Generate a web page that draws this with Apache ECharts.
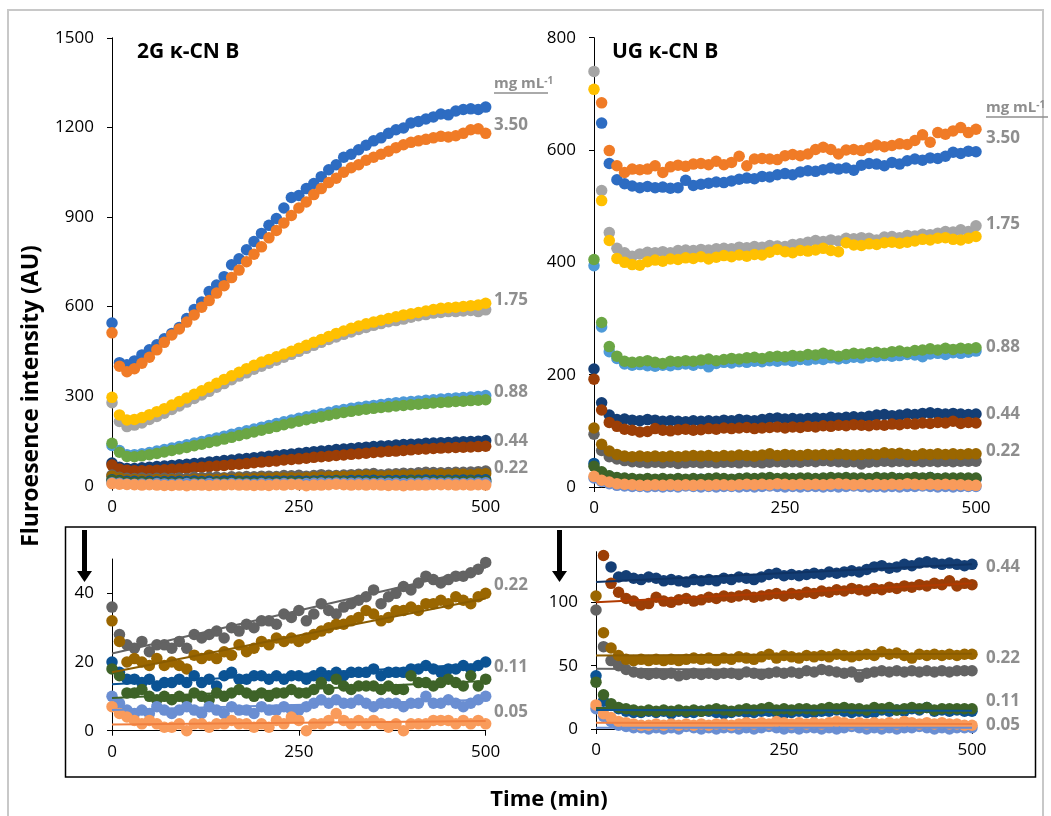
<!DOCTYPE html>
<html><head><meta charset="utf-8">
<script src="https://cdn.jsdelivr.net/npm/echarts@6/dist/echarts.min.js"></script>
<style>html,body{margin:0;padding:0;background:#fff}#c{width:1051px;height:816px}</style>
</head><body><div id="c"></div><script>
// ---------- DATA ----------
const time = [0,10,20,30,40,50,60,70,80,90,100,110,120,130,140,150,160,170,180,190,200,210,220,230,240,250,260,270,280,290,300,310,320,330,340,350,360,370,380,390,400,410,420,430,440,450,460,470,480,490,500];
const xTicks = [0,250,500];
const yTicks2G = [0,300,600,900,1200,1500];
const yTicksUG = [0,200,400,600,800];
const yTicks2Gzoom = [0,20,40];
const yTicksUGzoom = [0,50,100];

// 2G κ-CN B
const g2_350_a = [545,412,405,418,438,455,472,492,510,530,560,590,615,650,672,700,740,760,790,818,845,872,895,930,965,972,995,1012,1035,1058,1075,1100,1110,1125,1140,1155,1165,1180,1192,1198,1215,1220,1228,1235,1245,1242,1255,1260,1262,1260,1268];
const g2_350_b = [512,400,382,392,410,430,455,480,505,525,548,572,598,620,645,670,697,722,750,775,800,830,855,880,905,930,950,975,995,1015,1030,1050,1065,1075,1090,1100,1110,1120,1132,1142,1150,1155,1160,1165,1170,1168,1172,1180,1192,1195,1180];
const g2_175_a = [278,215,198,203,210,222,232,243,255,267,280,292,304,316,330,342,355,367,378,390,400,410,420,430,440,450,460,470,480,490,498,507,515,523,530,537,543,549,553,558,564,569,573,578,580,583,583,585,587,583,589];
const g2_175_b = [296,237,220,222,228,238,248,258,270,282,294,306,318,330,343,356,368,380,392,403,414,423,432,441,450,460,470,480,490,500,510,518,527,535,542,548,554,560,566,572,576,580,585,590,594,596,598,600,603,605,611];
const g2_088_a = [135,118,104,104,107,111,116,121,126,131,137,143,148,154,160,166,172,178,184,190,196,202,208,214,220,226,231,236,241,246,251,255,259,263,266,269,272,275,278,280,282,284,286,288,290,292,294,295,297,299,302];
const g2_088_b = [142,112,98,97,100,104,108,113,118,123,128,134,139,145,150,156,162,168,174,180,186,192,198,204,210,216,221,226,231,236,241,245,249,253,256,259,262,264,267,269,271,273,275,277,279,280,282,283,285,286,288];
const g2_044_a = [76,62,58,58,60,62,64,66,68,70,72,74,76,79,81,84,86,89,91,94,96,99,101,104,106,109,111,114,116,118,121,123,125,127,129,131,133,134,136,138,139,140,142,143,144,145,146,147,148,149,151];
const g2_044_b = [69,56,52,50,50,51,52,53,55,56,58,60,62,64,66,68,70,72,74,77,79,81,83,86,88,90,92,95,97,99,101,103,105,107,109,111,113,115,116,118,120,122,123,125,126,127,128,129,130,131,132];
const g2_022_a = [36,28,25,24,26,23,25,25,24,26,24,28,27,28,29,27,30,29,31,30,32,32,31,34,33,35,32,34,37,35,34,36,37,38,39,41,37,39,40,42,41,43,45,44,43,44,45,45,46,47,49];
const g2_022_b = [32,26,20,21,20,19,21,19,20,19,18,22,21,22,21,23,22,25,23,24,26,25,27,26,27,26,27,28,29,30,31,31,32,33,35,34,32,33,35,35,36,35,37,37,38,37,39,38,37,39,40];
const g2_011_a = [20,17,15,15,14,15,13,14,14,15,14,16,14,15,13,16,17,15,15,16,16,15,16,15,16,16,15,16,17,16,17,16,17,17,17,18,16,17,17,17,18,18,19,18,17,18,18,19,18,19,20];
const g2_011_b = [18,16,11,11,12,10,9,10,9,10,9,11,10,9,11,10,11,12,11,10,11,10,11,11,12,11,11,12,14,12,15,13,12,13,13,13,12,13,12,12,16,14,14,13,14,15,14,13,16,13,15];
const g2_005_a = [10,8,6,5,6,5,7,6,5,6,7,6,5,7,6,5,7,6,6,5,7,6,6,7,6,6,7,8,9,8,9,8,8,9,8,7,8,8,8,7,8,8,10,8,8,9,8,7,8,9,10];
const g2_005_b = [7,5,4,3,2,3,2,1,1,2,0,2,2,1,2,2,3,2,2,1,2,1,3,2,4,3,0,2,2,3,5,3,2,3,2,3,2,1,2,0,2,2,2,3,3,3,2,3,2,3,2];

// UG κ-CN B
const ug_350_a = [null,648,576,547,540,536,533,535,533,534,532,533,546,537,539,541,543,542,545,548,550,549,553,552,556,558,556,561,563,562,565,568,566,568,564,573,576,575,572,578,575,581,584,582,586,585,589,596,594,598,597];
const ug_350_b = [null,684,599,572,560,566,565,566,572,560,570,573,571,575,576,574,580,574,578,589,572,584,585,584,583,590,592,590,593,601,605,601,593,600,601,599,604,609,606,608,611,610,617,627,614,631,628,634,640,631,637];
const ug_175_a = [740,528,453,425,417,411,415,418,417,419,417,421,422,421,423,422,424,425,424,427,426,428,427,430,429,428,432,433,436,439,437,440,438,443,442,444,443,440,445,446,444,448,447,450,449,452,455,454,458,455,465];
const ug_175_b = [708,510,439,407,400,396,395,401,404,402,406,405,408,407,410,406,409,412,410,413,411,414,413,418,423,419,417,421,420,422,425,421,419,435,431,430,433,432,435,436,434,436,438,441,440,443,444,441,440,443,446];
const ug_088_a = [394,285,241,229,219,217,218,216,215,217,216,218,219,217,220,214,220,222,221,223,222,224,223,225,224,226,224,227,226,228,227,230,228,229,231,230,233,232,234,233,234,236,235,232,237,238,236,239,238,240,242];
const ug_088_b = [405,293,250,233,224,222,223,225,222,220,224,223,225,224,226,228,225,227,229,228,230,231,229,232,233,232,234,233,236,235,238,235,233,236,238,237,239,240,238,241,242,240,243,244,246,244,247,245,247,246,248];
const ug_044_a = [210,150,128,120,121,119,118,120,119,117,118,117,116,118,117,118,117,119,118,120,119,118,120,122,123,121,122,121,122,123,122,124,123,124,125,124,126,128,129,127,128,130,129,131,132,131,130,131,130,129,130];
const ug_044_b = [192,137,115,108,103,101,98,99,104,101,100,102,103,101,102,104,103,105,104,105,106,104,105,106,107,105,107,106,108,107,109,108,110,109,111,110,109,111,110,112,111,113,112,114,113,115,114,117,113,115,114];
const ug_022_a = [94,65,54,50,47,45,44,43,44,43,44,42,43,44,43,44,43,44,44,43,45,44,43,44,45,44,45,44,46,45,47,46,45,44,45,41,44,45,46,45,46,45,46,45,46,45,46,45,46,46,46];
const ug_022_b = [105,76,64,58,55,54,55,54,55,54,55,54,55,56,55,56,54,56,55,57,56,55,57,59,56,58,57,56,58,57,58,57,59,58,57,58,59,58,61,59,60,58,56,59,58,59,58,59,58,59,59];
const ug_011_a = [42,22,19,16,14,13,13,14,13,14,12,14,13,13,14,14,13,12,13,14,13,13,14,14,13,12,13,14,13,13,14,14,15,14,13,14,13,13,15,14,15,14,16,15,17,14,15,14,15,14,14];
const ug_011_b = [37,27,20,17,16,15,14,15,14,15,14,15,14,15,14,15,16,15,14,15,16,15,16,17,15,16,15,16,16,15,16,17,16,17,16,16,15,17,16,17,15,16,17,16,17,15,16,16,16,16,16];
const ug_005_a = [16,10,6,3,2,1,1,0,1,0,1,0,2,1,0,1,0,1,1,0,1,0,1,2,1,0,1,0,1,1,0,1,0,1,2,1,0,1,0,1,0,1,1,2,1,0,1,0,1,1,1];
const ug_005_b = [19,12,9,6,5,4,3,3,4,3,4,3,4,3,4,3,4,4,3,4,5,4,5,4,6,5,4,5,4,5,4,5,6,5,4,5,4,5,4,5,4,6,5,4,5,4,5,4,4,3,3];

// linear trend lines (value at t=0, value at t=500) for zoomed panels
const trendTime = [0,500];
const tr2G_022_a = [22.5,47.5], tr2G_022_b = [17,38.5];
const tr2G_011_a = [13.5,19.5], tr2G_011_b = [9.5,14.5];
const tr2G_005_a = [6,9],       tr2G_005_b = [1.8,2.8];
const trUG_044_a = [116,130],   trUG_044_b = [100,115];
const trUG_022_a = [47.5,46],   trUG_022_b = [58,59.5];
const trUG_011_a = [15,14.5],   trUG_011_b = [16.5,16.5];
const trUG_005_a = [1,1],       trUG_005_b = [5,4];

const concLabels = ['3.50','1.75','0.88','0.44','0.22','0.11','0.05'];

// ---------- STYLE ----------
const C = {
  a350:'#2D6CC2', b350:'#F07B26',
  a175:'#A5A5A5', b175:'#FFC000',
  a088:'#4E9AD8', b088:'#6BA644',
  a044:'#143E75', b044:'#9C3E06',
  a022:'#636363', b022:'#9A6600',
  a011:'#0B5394', b011:'#3E6328',
  a005:'#6A8ED2', b005:'#F99B5B'
};
const FONT = '"Open Sans", "Liberation Sans", sans-serif';
const DOT = 11.5;

function pts(arr){ return time.map((t,i)=>[t,arr[i]]); }
function trendPts(arr){ return trendTime.map((t,i)=>[t,arr[i]]); }
function sc(idx, color, arr){
  return {type:'scatter', xAxisIndex:idx, yAxisIndex:idx, data:pts(arr), symbolSize:DOT,
    itemStyle:{color:color, opacity:1}, clip:true, silent:true, z:2};
}
function tr(idx, color, arr){
  return {type:'line', xAxisIndex:idx, yAxisIndex:idx, data:trendPts(arr), symbol:'none',
    lineStyle:{color:color, width:2}, clip:true, silent:true, z:3};
}

const series = [
  // panel 0: 2G
  sc(0,C.a350,g2_350_a), sc(0,C.b350,g2_350_b), sc(0,C.a175,g2_175_a), sc(0,C.b175,g2_175_b),
  sc(0,C.a088,g2_088_a), sc(0,C.b088,g2_088_b), sc(0,C.a044,g2_044_a), sc(0,C.b044,g2_044_b),
  sc(0,C.a022,g2_022_a), sc(0,C.b022,g2_022_b), sc(0,C.a011,g2_011_a), sc(0,C.b011,g2_011_b),
  sc(0,C.a005,g2_005_a), sc(0,C.b005,g2_005_b),
  // panel 1: UG
  sc(1,C.a350,ug_350_a), sc(1,C.b350,ug_350_b), sc(1,C.a175,ug_175_a), sc(1,C.b175,ug_175_b),
  sc(1,C.a088,ug_088_a), sc(1,C.b088,ug_088_b), sc(1,C.a044,ug_044_a), sc(1,C.b044,ug_044_b),
  sc(1,C.a022,ug_022_a), sc(1,C.b022,ug_022_b), sc(1,C.a011,ug_011_a), sc(1,C.b011,ug_011_b),
  sc(1,C.a005,ug_005_a), sc(1,C.b005,ug_005_b),
  // panel 2: 2G zoom
  sc(2,C.a022,g2_022_a), sc(2,C.b022,g2_022_b), sc(2,C.a011,g2_011_a), sc(2,C.b011,g2_011_b),
  sc(2,C.a005,g2_005_a), sc(2,C.b005,g2_005_b),
  tr(2,C.a022,tr2G_022_a), tr(2,'#8A5C00',tr2G_022_b), tr(2,C.a011,tr2G_011_a), tr(2,C.b011,tr2G_011_b),
  tr(2,C.a005,tr2G_005_a), tr(2,'#F08040',tr2G_005_b),
  // panel 3: UG zoom
  sc(3,C.a044,ug_044_a), sc(3,C.b044,ug_044_b), sc(3,C.a022,ug_022_a), sc(3,C.b022,ug_022_b),
  sc(3,C.a011,ug_011_a), sc(3,C.b011,ug_011_b), sc(3,C.a005,ug_005_a), sc(3,C.b005,ug_005_b),
  tr(3,'#0F3364',trUG_044_a), tr(3,'#B03A00',trUG_044_b), tr(3,C.a022,trUG_022_a), tr(3,'#8A5C00',trUG_022_b),
  tr(3,C.a011,trUG_011_a), tr(3,C.b011,trUG_011_b), tr(3,C.a005,trUG_005_a), tr(3,'#F08040',trUG_005_b)
];

const grids = [
  {left:112, top:37.8, width:373.7, height:447.9},
  {left:594, top:37.7, width:382, height:449.3},
  {left:112, top:559, width:373.7, height:171.7},
  {left:596, top:551.7, width:376, height:177.3}
];
const axLine = {show:true, onZero:false, lineStyle:{color:'#000', width:1}};
const axTick = {show:true, length:5, inside:false, lineStyle:{color:'#000', width:1}};
const plain = v => String(v);
function xAx(i){
  return {type:'value', gridIndex:i, min:xTicks[0], max:xTicks[xTicks.length-1], interval:xTicks[1]-xTicks[0],
    axisLine:axLine, axisTick:axTick, splitLine:{show:false},
    axisLabel:{fontSize:17, color:'#000', fontFamily:FONT, margin:13, formatter:plain}};
}
function yAx(i, ticks){
  return {type:'value', gridIndex:i, min:ticks[0],
    max: i===2 ? 50 : (i===3 ? 140 : ticks[ticks.length-1]),
    interval: ticks[1]-ticks[0],
    axisLine:axLine, splitLine:{show:false},
    axisTick:Object.assign({}, axTick, {customValues:ticks}),
    axisLabel:{fontSize:17, color:'#000', fontFamily:FONT, margin:18, customValues:ticks, formatter:plain}};
}

const grey = '#8E8E8E';
function lbl(x,y,t){
  return {type:'text', x:x, y:y, silent:true, style:{text:t, fill:grey, fontSize:17, fontWeight:'bold', fontFamily:FONT, align:'left', verticalAlign:'middle'}};
}
function unit(x,y){
  return {type:'text', x:x, y:y, silent:true, style:{text:'{a|mg mL}{b|-1}', fill:grey, align:'left', verticalAlign:'middle',
    rich:{a:{fontSize:15, fontWeight:'bold', fontFamily:FONT, fill:grey, verticalAlign:'bottom'},
          b:{fontSize:10, fontWeight:'bold', fontFamily:FONT, fill:grey, verticalAlign:'top'}}}};
}
function uline(x1,x2,y){
  return {type:'line', silent:true, shape:{x1:x1,y1:y,x2:x2,y2:y}, style:{stroke:grey, lineWidth:1.5}};
}
function arrow(x){
  return {type:'group', silent:true, children:[
    {type:'rect', shape:{x:x-2.5, y:530, width:5, height:42}, style:{fill:'#000'}},
    {type:'polygon', shape:{points:[[x-7.5,571],[x+7.5,571],[x,582]]}, style:{fill:'#000'}}
  ]};
}

const graphic = [
  {type:'rect', silent:true, z:-1, shape:{x:8, y:10, width:1035, height:830}, style:{fill:'none', stroke:'#C8C8C8', lineWidth:2}},
  {type:'rect', silent:true, shape:{x:65.5, y:527, width:970, height:250}, style:{fill:'none', stroke:'#000', lineWidth:1.5}},
  arrow(84.5), arrow(559.5),
  {type:'text', x:137, y:52, silent:true, style:{text:'2G κ-CN B', fill:'#000', fontSize:21, fontWeight:'bold', fontFamily:FONT, align:'left', verticalAlign:'middle'}},
  {type:'text', x:612, y:52, silent:true, style:{text:'UG κ-CN B', fill:'#000', fontSize:21, fontWeight:'bold', fontFamily:FONT, align:'left', verticalAlign:'middle'}},
  {type:'text', x:31, y:396, rotation:Math.PI/2, silent:true, style:{text:'Fluroesence intensity (AU)', fill:'#000', fontSize:23, fontWeight:'bold', fontFamily:FONT, align:'center', verticalAlign:'middle'}},
  {type:'text', x:549, y:800, silent:true, style:{text:'Time (min)', fill:'#000', fontSize:22, fontWeight:'bold', fontFamily:FONT, align:'center', verticalAlign:'middle'}},
  unit(494,84), uline(494,548,93),
  unit(986,108), uline(986,1048,117),
  lbl(494,125,concLabels[0]), lbl(494,300,concLabels[1]), lbl(494,392,concLabels[2]), lbl(494,441,concLabels[3]), lbl(494,468,concLabels[4]),
  lbl(986,138,concLabels[0]), lbl(986,224,concLabels[1]), lbl(986,347,concLabels[2]), lbl(986,414,concLabels[3]), lbl(986,451,concLabels[4]),
  lbl(494,585,concLabels[4]), lbl(494,667,concLabels[5]), lbl(494,712,concLabels[6]),
  lbl(986,567,concLabels[3]), lbl(986,658,concLabels[4]), lbl(986,701,concLabels[5]), lbl(986,725,concLabels[6])
];

const chart = echarts.init(document.getElementById('c'), null, {renderer:'canvas'});
chart.setOption({
  animation:false,
  backgroundColor:'#fff',
  grid:grids,
  xAxis:[xAx(0),xAx(1),xAx(2),xAx(3)],
  yAxis:[yAx(0,yTicks2G), yAx(1,yTicksUG), yAx(2,yTicks2Gzoom), yAx(3,yTicksUGzoom)],
  series:series,
  graphic:graphic
});
</script></body></html>
